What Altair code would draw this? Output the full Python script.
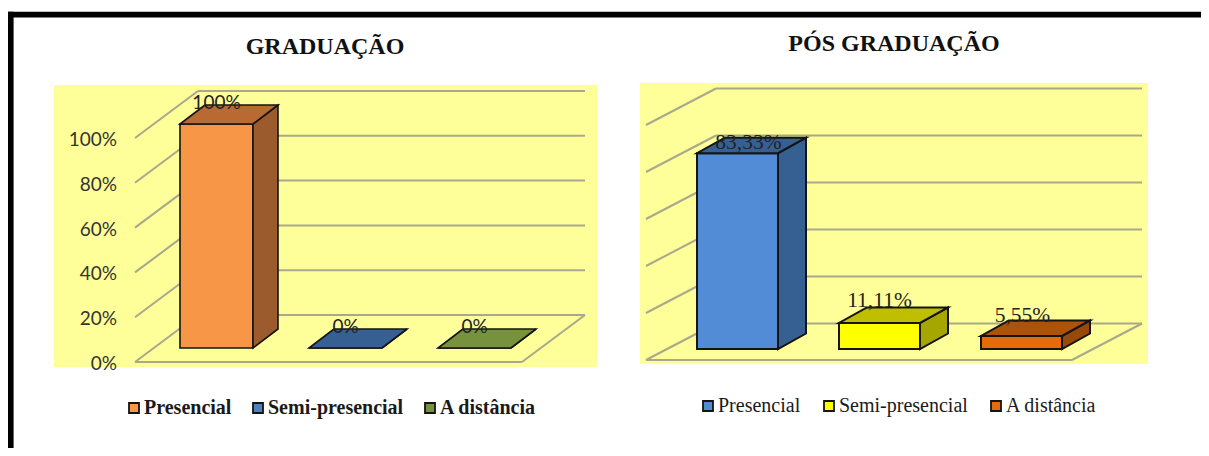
import altair as alt
import pandas as pd

categories = ["Presencial", "Semi-presencial", "A distância"]

grad_values = [100, 0, 0]
grad_labels = ["100%", "0%", "0%"]
grad_front = ["#F79646", "#4F81BD", "#76923C"]
grad_top = ["#B96A33", "#376092", "#76923C"]
grad_side = ["#9C5B2C", "#2F5480", "#5F7530"]
grad_ticks = [0, 20, 40, 60, 80, 100]
grad_tick_labels = ["0%", "20%", "40%", "60%", "80%", "100%"]

pos_values = [83.33, 11.11, 5.55]
pos_labels = ["83,33%", "11,11%", "5,55%"]
pos_front = ["#538CD6", "#FFFF00", "#E46C0A"]
pos_top = ["#376092", "#BFBF00", "#AD5207"]
pos_side = ["#376092", "#A6A600", "#984807"]
pos_ticks = [0, 20, 40, 60, 80, 100]

YELLOW = "#FFFF99"
GRID = "#A8A88C"
EDGE = "#141414"
SERIF = "Liberation Serif"

GRAD_LAYOUT = dict(view_x=8, view_w=612, x0=135, y0=362, ux=129.0, uy=2.24,
                   wall_dx=63, wall_dy=47, bar_off=45, bar_w=73, bar_base=14, bar_dx=25, bar_dy=19,
                   yellow=(54, 597, 85, 367), title_x=325, title_y=47, title="GRADUAÇÃO",
                   label_font="Lato", label_size=19, label_dx=[0, 0, 0], label_dy=[21, 21, 21],
                   legend_x=124, legend_y=398, legend_size=20, legend_weight="bold", pad=16,
                   grid_w=2, edge_w=1.6)
POS_LAYOUT = dict(view_x=620, view_w=581, x0=646, y0=360, ux=142.0, uy=2.35,
                  wall_dx=70, wall_dy=36.5, bar_off=51, bar_w=81, bar_base=11, bar_dx=28, bar_dy=15.5,
                  yellow=(640, 1148, 83, 364), title_x=894, title_y=44, title="PÓS GRADUAÇÃO",
                  label_font=SERIF, label_size=21.5, label_dx=[11, 0, 1], label_dy=[10, 22, 20],
                  legend_x=698, legend_y=396, legend_size=20, legend_weight="normal", pad=18,
                  grid_w=2, edge_w=2)
VIEW_TOP, VIEW_H = 8, 440


def panel(values, labels, front, top, side, ticks, tick_labels, L, left_border):
    px = lambda p: (p - L["x0"]) / L["ux"]
    py = lambda p: (L["y0"] - p) / L["uy"]
    xs = alt.Scale(domain=[px(L["view_x"]), px(L["view_x"] + L["view_w"])], nice=False, zero=False)
    ys = alt.Scale(domain=[py(VIEW_TOP + VIEW_H), py(VIEW_TOP)], nice=False, zero=False)
    X = lambda f: alt.X(f, type="quantitative", scale=xs, axis=None)
    Y = lambda f: alt.Y(f, type="quantitative", scale=ys, axis=None)

    wd, wh = L["wall_dx"] / L["ux"], L["wall_dy"] / L["uy"]
    bdx, bdy = L["bar_dx"] / L["ux"], L["bar_dy"] / L["uy"]
    off, bw, base = L["bar_off"] / L["ux"], L["bar_w"] / L["ux"], L["bar_base"] / L["uy"]
    ew = L["edge_w"]

    a, b, c, d = L["yellow"]
    backdrop = pd.DataFrame([dict(x=px(a), x2=px(b), y=py(d), y2=py(c))])
    layers = [alt.Chart(backdrop).mark_rect(color=YELLOW).encode(
        x=X("x"), x2="x2", y=Y("y"), y2="y2")]

    rows = []
    for t in ticks:
        rows.append(dict(x=0, x2=wd, y=t, y2=t + wh))
        rows.append(dict(x=wd, x2=3 + wd, y=t + wh, y2=t + wh))
    rows.append(dict(x=0, x2=3, y=0, y2=0))
    rows.append(dict(x=3, x2=3 + wd, y=0, y2=wh))
    layers.append(alt.Chart(pd.DataFrame(rows)).mark_rule(color=GRID, strokeWidth=L["grid_w"]).encode(
        x=X("x"), x2="x2", y=Y("y"), y2="y2"))

    bars = pd.DataFrame({
        "cat": categories, "v": values, "label": labels, "front": front,
        "x": [i + off for i in range(3)],
        "x2": [i + off + bw for i in range(3)],
        "y": [base] * 3,
        "y2": [v + base for v in values],
    })
    layers.append(alt.Chart(bars).mark_rect(stroke=EDGE, strokeWidth=ew).encode(
        x=X("x"), x2="x2", y=Y("y"), y2="y2",
        color=alt.Color("cat:N", scale=alt.Scale(domain=categories, range=front), legend=alt.Legend(
            title=None, orient="none", direction="horizontal",
            legendX=L["legend_x"] - L["view_x"], legendY=L["legend_y"] - VIEW_TOP,
            symbolType="square", symbolSize=100, symbolStrokeColor=EDGE, symbolStrokeWidth=1.8, symbolOpacity=1,
            labelFont=SERIF, labelFontSize=L["legend_size"], labelFontWeight=L["legend_weight"],
            labelColor="#1a1a1a", labelLimit=300, columnPadding=L["pad"], labelOffset=0))))

    top_rows, side_rows = [], []
    for i, v in enumerate(values):
        x0, x1, h = i + off, i + off + bw, v + base
        top_rows.append(dict(cat=categories[i], fill=top[i], x=x0, x2=x1, y=h))
        top_rows.append(dict(cat=categories[i], fill=top[i], x=x0 + bdx, x2=x1 + bdx, y=h + bdy))
        side_rows.append(dict(cat=categories[i], fill=side[i], x=x1, y=h, y2=base))
        side_rows.append(dict(cat=categories[i], fill=side[i], x=x1 + bdx, y=h + bdy, y2=base + bdy))
    layers.append(alt.Chart(pd.DataFrame(side_rows)).mark_area(orient="vertical", stroke=EDGE, strokeWidth=ew).encode(
        x=X("x"), y=Y("y"), y2="y2", detail="cat:N", fill=alt.Fill("fill:N", scale=None)))
    layers.append(alt.Chart(pd.DataFrame(top_rows)).mark_area(orient="horizontal", stroke=EDGE, strokeWidth=ew).encode(
        x=X("x"), x2="x2", y=Y("y"), detail="cat:N", fill=alt.Fill("fill:N", scale=None)))

    lab = pd.DataFrame({
        "label": labels,
        "x": [i + off + bw / 2 + L["label_dx"][i] / L["ux"] for i in range(3)],
        "y": [v + base + L["label_dy"][i] / L["uy"] for i, v in enumerate(values)],
    })
    layers.append(alt.Chart(lab).mark_text(font=L["label_font"], fontSize=L["label_size"], color="#222222").encode(
        x=X("x"), y=Y("y"), text="label:N"))

    if tick_labels:
        tk = pd.DataFrame({"t": ticks, "label": tick_labels, "x": [px(117)] * len(ticks)})
        layers.append(alt.Chart(tk).mark_text(font="Lato", fontSize=19, align="right", dy=2, color="#333333").encode(
            x=X("x"), y=Y("t"), text="label:N"))

    ttl = pd.DataFrame({"t": [L["title"]], "x": [px(L["title_x"])], "y": [py(L["title_y"])]})
    layers.append(alt.Chart(ttl).mark_text(font=SERIF, fontSize=24, fontWeight="bold", color="#111111").encode(
        x=X("x"), y=Y("y"), text="t:N"))

    one = pd.DataFrame({"a": [0]})
    layers.append(alt.Chart(one).mark_rect(color="black").encode(
        x=alt.value(0), x2=alt.value(L["view_w"]), y=alt.value(11.7 - VIEW_TOP), y2=alt.value(17.4 - VIEW_TOP)))
    if left_border:
        layers.append(alt.Chart(one).mark_rect(color="black").encode(
            x=alt.value(0), x2=alt.value(5.6), y=alt.value(11.7 - VIEW_TOP), y2=alt.value(VIEW_H)))

    return alt.layer(*layers).properties(width=L["view_w"], height=VIEW_H)


left = panel(grad_values, grad_labels, grad_front, grad_top, grad_side, grad_ticks, grad_tick_labels, GRAD_LAYOUT, True)
right = panel(pos_values, pos_labels, pos_front, pos_top, pos_side, pos_ticks, [], POS_LAYOUT, False)

chart = alt.hconcat(left, right, spacing=0, bounds="flush").resolve_scale(color="independent").properties(
    padding=0
).configure_view(stroke=None)

chart.save("out.html", embed_options={"renderer": "svg", "actions": False})
